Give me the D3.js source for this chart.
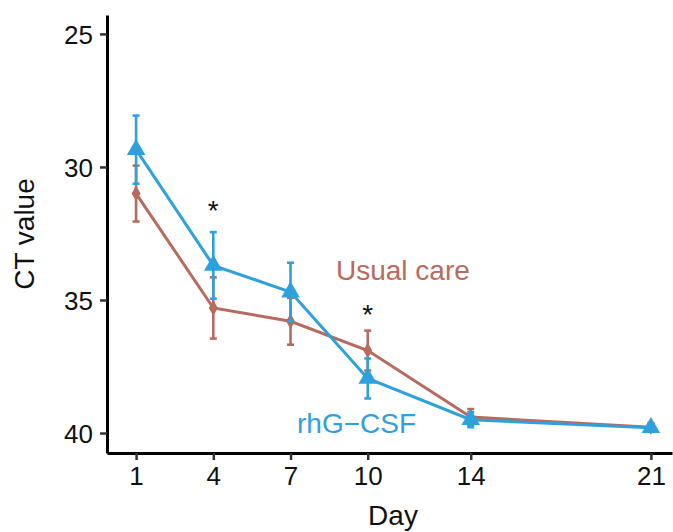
<!DOCTYPE html>
<html>
<head>
<meta charset="utf-8">
<script src="https://cdn.jsdelivr.net/npm/d3@7"></script>
<style>
  body { margin: 0; background: #fff; }
  svg { display: block; font-family: "Liberation Sans", Arial, sans-serif; }
</style>
</head>
<body>
<svg id="chart" width="673" height="532"></svg>
<script>
// data
const days = [1, 4, 7, 10, 14, 21];
const usualMean = [31.0, 35.3, 35.8, 36.9, 39.4, 39.78];
const usualErr = [1.05, 1.15, 0.88, 0.75, 0.3, 0.15];
const gcsfMean = [29.35, 33.7, 34.7, 37.95, 39.5, 39.8];
const gcsfErr = [1.28, 1.25, 1.1, 0.75, 0.28, 0.15];
const starDays = [4, 10];
const starValues = [32.0, 35.9];
const yTicks = [25, 30, 35, 40];

const svg = d3.select('#chart');
const red = '#b96a5f', blue = '#2ea1dd';

const x = d3.scaleLinear().domain([-0.13, 21.82]).range([107, 672]);
const y = d3.scaleLinear().domain([24.29, 40.75]).range([15, 453]);

// axes
const xAxis = svg.append('g')
  .attr('transform', 'translate(0,453)')
  .call(d3.axisBottom(x).tickValues(days).tickSize(7).tickSizeOuter(0).tickPadding(7));
const yAxis = svg.append('g')
  .attr('transform', 'translate(107,0)')
  .call(d3.axisLeft(y).tickValues(yTicks).tickSize(7).tickSizeOuter(0).tickPadding(7));

[xAxis, yAxis].forEach(a => {
  a.select('.domain').attr('stroke', '#000').attr('stroke-width', 3);
  a.selectAll('.tick line').attr('stroke', '#333').attr('stroke-width', 2.5);
  a.selectAll('.tick text')
    .attr('fill', '#111')
    .style('font-size', '26px')
    .style('font-family', '"Liberation Sans", Arial, sans-serif');
});
yAxis.selectAll('.tick text').attr('dy', '0.36em');

// axis titles
svg.append('text')
  .attr('x', 393).attr('y', 525)
  .attr('text-anchor', 'middle')
  .style('font-size', '28px')
  .attr('fill', '#111')
  .text('Day');
svg.append('text')
  .attr('transform', 'translate(34,234) rotate(-90)')
  .attr('text-anchor', 'middle')
  .style('font-size', '28px')
  .attr('fill', '#111')
  .text('CT value');

function drawSeries(means, errs, color, shape, size) {
  const pts = days.map((d, i) => ({ d, m: means[i], e: errs[i] }));
  const g = svg.append('g');
  g.append('path')
    .datum(pts)
    .attr('fill', 'none')
    .attr('stroke', color)
    .attr('stroke-width', 3)
    .attr('d', d3.line().x(p => x(p.d)).y(p => y(p.m)));

  const eb = g.selectAll('.eb').data(pts).enter().append('g')
    .attr('stroke', color).attr('stroke-width', 2.6);
  eb.append('line')
    .attr('x1', p => x(p.d)).attr('x2', p => x(p.d))
    .attr('y1', p => y(p.m - p.e)).attr('y2', p => y(p.m + p.e));
  eb.append('line')
    .attr('x1', p => x(p.d) - 3.5).attr('x2', p => x(p.d) + 3.5)
    .attr('y1', p => y(p.m - p.e)).attr('y2', p => y(p.m - p.e));
  eb.append('line')
    .attr('x1', p => x(p.d) - 3.5).attr('x2', p => x(p.d) + 3.5)
    .attr('y1', p => y(p.m + p.e)).attr('y2', p => y(p.m + p.e));

  g.selectAll('.pt').data(pts).enter().append('path')
    .attr('transform', p => `translate(${x(p.d)},${y(p.m)})`)
    .attr('fill', color)
    .attr('d', d3.symbol().type(shape).size(size));
}

drawSeries(usualMean, usualErr, red, d3.symbolDiamond, 70);
drawSeries(gcsfMean, gcsfErr, blue, d3.symbolTriangle, 150);

// significance stars
svg.selectAll('.star').data(starDays).enter().append('text')
  .attr('x', d => x(d))
  .attr('y', (d, i) => y(starValues[i]))
  .attr('text-anchor', 'middle')
  .style('font-size', '28px')
  .attr('fill', '#111')
  .text('*');

// direct labels
svg.append('text')
  .attr('x', 336).attr('y', 280)
  .style('font-size', '28px')
  .attr('fill', red)
  .text('Usual care');
svg.append('text')
  .attr('x', 297).attr('y', 433)
  .style('font-size', '28px')
  .attr('fill', blue)
  .text('rhG\u2212CSF');
</script>
</body>
</html>
